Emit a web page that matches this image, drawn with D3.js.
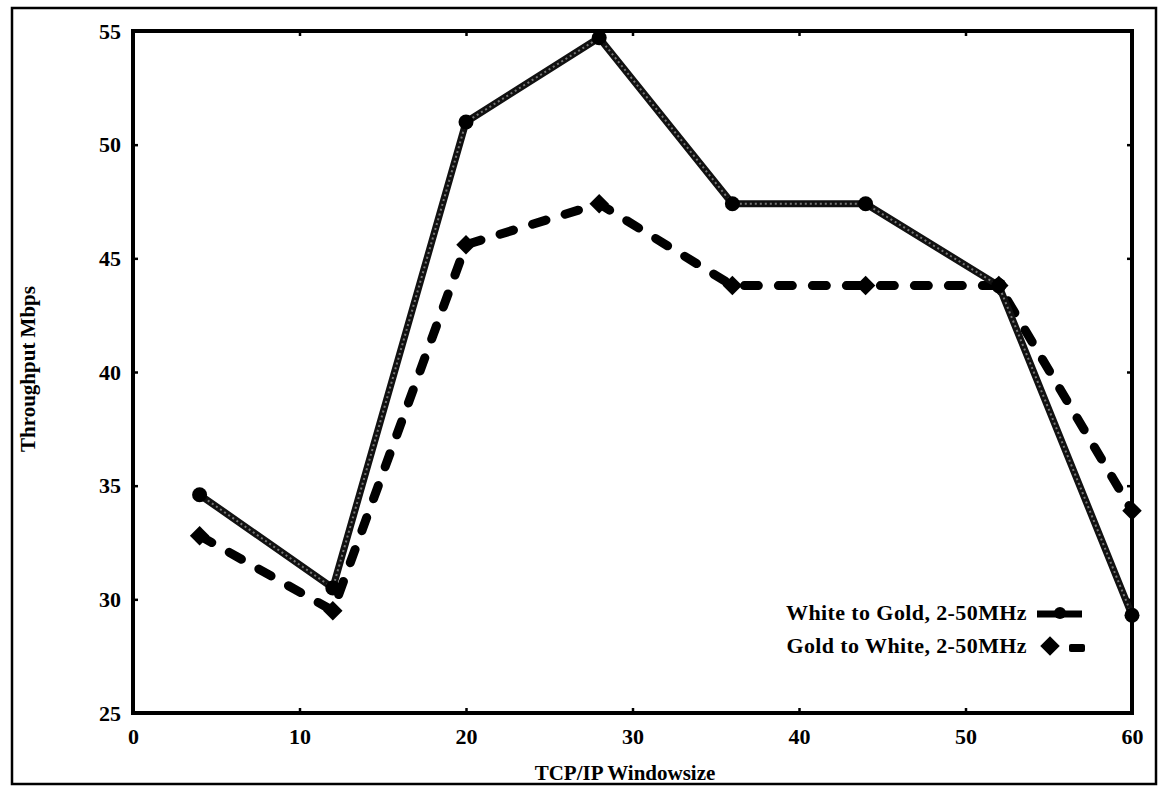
<!DOCTYPE html>
<html>
<head>
<meta charset="utf-8">
<script src="https://cdn.jsdelivr.net/npm/d3@7"></script>
<style>
  body { margin: 0; background: #fff; }
  text { font-family: "Liberation Serif", "Times New Roman", serif; font-weight: bold; fill: #000; }
</style>
</head>
<body>
<div id="chart"></div>
<script>
// window sizes on the x axis
var windowSizes = [4, 12, 20, 28, 36, 44, 52, 60];
// throughput in Mbps
var whiteToGold = [34.6, 30.5, 51.0, 54.7, 47.4, 47.4, 43.8, 29.3];
var goldToWhite = [32.8, 29.5, 45.6, 47.4, 43.8, 43.8, 43.8, 33.9];
var xTicks = [0, 10, 20, 30, 40, 50, 60];
var yTicks = [25, 30, 35, 40, 45, 50, 55];
var seriesNames = ["White to Gold, 2-50MHz", "Gold to White, 2-50MHz"];

(function() {
  var width = 1159, height = 787;
  // plot box edges
  var pLeft = 133, pRight = 1132, pTop = 31, pBottom = 713;

  var svg = d3.select("#chart").append("svg")
      .attr("width", width)
      .attr("height", height);

  svg.append("rect").attr("width", width).attr("height", height).attr("fill", "#fff");

  // outer frame around the whole figure
  svg.append("rect")
      .attr("x", 12).attr("y", 8)
      .attr("width", 1144).attr("height", 776)
      .attr("fill", "none").attr("stroke", "#000").attr("stroke-width", 2.5);

  var x = d3.scaleLinear().domain([0, 60]).range([pLeft, pRight]);
  var y = d3.scaleLinear().domain([25, 55]).range([pBottom, pTop]);

  // axes, ticks pointing inward on all four sides
  var fmt = d3.format("d");
  var gx = svg.append("g").attr("transform", "translate(0," + pBottom + ")")
      .call(d3.axisBottom(x).tickValues(xTicks).tickSize(-5).tickPadding(15).tickFormat(fmt));
  var gy = svg.append("g").attr("transform", "translate(" + pLeft + ",0)")
      .call(d3.axisLeft(y).tickValues(yTicks).tickSize(-5).tickPadding(12).tickFormat(fmt));
  var gt = svg.append("g").attr("transform", "translate(0," + pTop + ")")
      .call(d3.axisTop(x).tickValues(xTicks).tickSize(-5).tickFormat(""));
  var gr = svg.append("g").attr("transform", "translate(" + pRight + ",0)")
      .call(d3.axisRight(y).tickValues(yTicks).tickSize(-5).tickFormat(""));

  [gx, gy, gt, gr].forEach(function(g) {
    g.select(".domain").remove();
    g.selectAll(".tick line").attr("stroke", "#000").attr("stroke-width", 2.5);
    g.selectAll(".tick text").style("font-size", "22px").style("font-family", "Liberation Serif, serif")
      .style("font-weight", "bold").attr("fill", "#000");
  });

  // plot box
  svg.append("rect")
      .attr("x", pLeft).attr("y", pTop)
      .attr("width", pRight - pLeft).attr("height", pBottom - pTop)
      .attr("fill", "none").attr("stroke", "#000").attr("stroke-width", 4);

  // axis titles
  svg.append("text")
      .attr("x", 625).attr("y", 780)
      .attr("text-anchor", "middle")
      .style("font-size", "21px")
      .text("TCP/IP Windowsize");

  svg.append("text")
      .attr("transform", "translate(35,369) rotate(-90)")
      .attr("text-anchor", "middle")
      .style("font-size", "21px")
      .text("Throughput Mbps");

  var line = d3.line()
      .x(function(d) { return x(d[0]); })
      .y(function(d) { return y(d[1]); });

  var solidPts = windowSizes.map(function(w, i) { return [w, whiteToGold[i]]; });
  var dashPts = windowSizes.map(function(w, i) { return [w, goldToWhite[i]]; });

  var diamond = d3.symbol().type(d3.symbolSquare).size(190);

  // dashed series
  svg.append("path")
      .datum(dashPts)
      .attr("d", line)
      .attr("fill", "none")
      .attr("stroke", "#000")
      .attr("stroke-width", 9)
      .attr("stroke-linecap", "round")
      .attr("stroke-dasharray", "14,20");

  svg.selectAll(".diamond")
      .data(dashPts)
      .enter().append("path")
      .attr("class", "diamond")
      .attr("transform", function(d) { return "translate(" + x(d[0]) + "," + y(d[1]) + ") rotate(45)"; })
      .attr("d", diamond)
      .attr("fill", "#000");

  // solid series (dark line with a grey grain through it)
  svg.append("path")
      .datum(solidPts)
      .attr("d", line)
      .attr("fill", "none")
      .attr("stroke", "#111")
      .attr("stroke-width", 7)
      .attr("stroke-linejoin", "round");

  svg.append("path")
      .datum(solidPts)
      .attr("d", line)
      .attr("fill", "none")
      .attr("stroke", "#777")
      .attr("stroke-width", 2)
      .attr("stroke-dasharray", "2,3");

  svg.selectAll(".dot")
      .data(solidPts)
      .enter().append("circle")
      .attr("class", "dot")
      .attr("cx", function(d) { return x(d[0]); })
      .attr("cy", function(d) { return y(d[1]); })
      .attr("r", 7.5)
      .attr("fill", "#000");

  // legend
  var legend = svg.append("g");
  legend.selectAll("text")
      .data(seriesNames)
      .enter().append("text")
      .attr("x", 1027)
      .attr("y", function(d, i) { return 620 + i * 33; })
      .attr("text-anchor", "end")
      .style("font-size", "22px")
      .style("letter-spacing", "0.4px")
      .text(function(d) { return d; });

  legend.append("line")
      .attr("x1", 1037).attr("x2", 1082).attr("y1", 614).attr("y2", 614)
      .attr("stroke", "#000").attr("stroke-width", 7);
  legend.append("circle").attr("cx", 1060).attr("cy", 613).attr("r", 6).attr("fill", "#000");

  legend.append("path")
      .attr("transform", "translate(1050,646) rotate(45)")
      .attr("d", diamond)
      .attr("fill", "#000");
  legend.append("rect")
      .attr("x", 1069).attr("y", 644).attr("width", 16).attr("height", 8)
      .attr("rx", 2).attr("fill", "#000");
})();
</script>
</body>
</html>
